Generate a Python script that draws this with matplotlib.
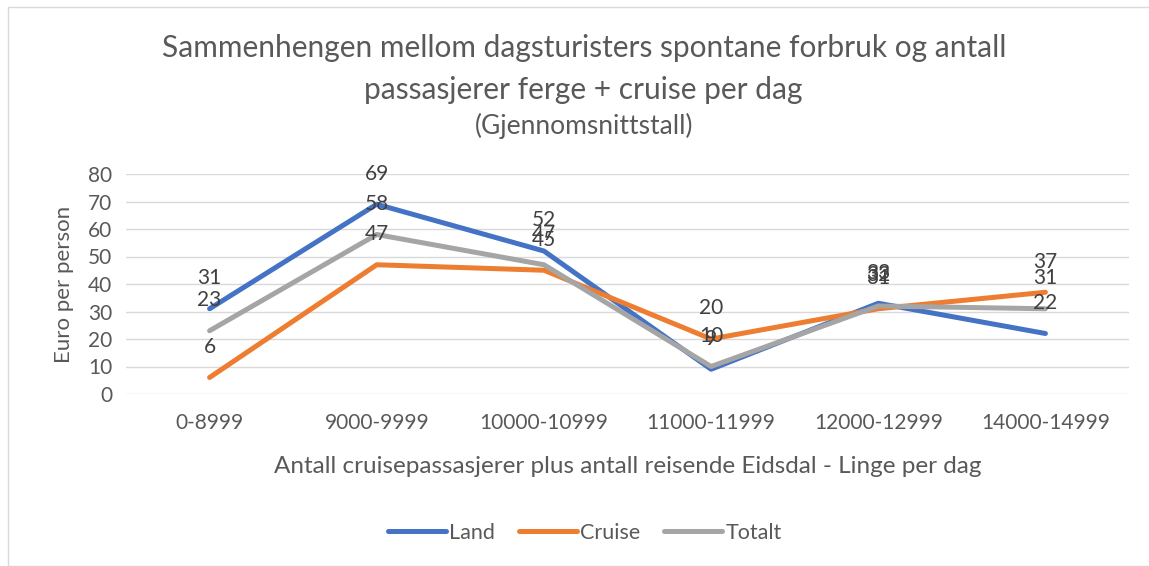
import matplotlib.pyplot as plt
from matplotlib.patches import Rectangle

categories = ['0-8999', '9000-9999', '10000-10999', '11000-11999', '12000-12999', '14000-14999']
land = [31, 69, 52, 9, 33, 22]
cruise = [6, 47, 45, 20, 31, 37]
totalt = [23, 58, 47, 10, 32, 31]

series = [('Land', land, '#4472C4'), ('Cruise', cruise, '#ED7D31'), ('Totalt', totalt, '#A5A5A5')]

plt.rcParams['font.family'] = ['Lato', 'DejaVu Sans']
text_col = '#595959'

fig = plt.figure(figsize=(11.49, 5.66), dpi=100)
fig.patches.append(Rectangle((8 / 1149, 0), 1.0, 1 - 7 / 566, transform=fig.transFigure,
                             fill=False, edgecolor='#D9D9D9', linewidth=1))
ax = fig.add_axes([126 / 1149, 1 - 394 / 566, 1003 / 1149, 220 / 566])

x = list(range(len(categories)))
for name, vals, col in series:
    ax.plot(x, vals, color=col, linewidth=3.6, label=name, solid_joinstyle='round', solid_capstyle='round')
for name, vals, col in series:
    for xi, v in zip(x, vals):
        ax.annotate(str(v), (xi, v), xytext=(0, 22), textcoords='offset points',
                    ha='center', va='center', fontsize=15, color='#404040')

ax.set_xlim(-0.5, 5.5)
ax.set_ylim(0, 80)
ax.set_yticks(range(0, 81, 10))
ax.set_xticks(x)
ax.set_xticklabels(categories)
ax.grid(axis='y', color='#D9D9D9', linewidth=1)
ax.set_axisbelow(True)
for s in ax.spines.values():
    s.set_visible(False)
ax.tick_params(length=0, labelsize=15, colors=text_col, pad=10)
ax.tick_params(axis='x', pad=14)

ax.set_ylabel('Euro per person', fontsize=16, color=text_col, labelpad=10)
ax.set_xlabel('Antall cruisepassasjerer plus antall reisende Eidsdal - Linge per dag',
              fontsize=17.5, color=text_col, labelpad=16)

fig.text(0.508, 1 - 48 / 566, 'Sammenhengen mellom dagsturisters spontane forbruk og antall',
         ha='center', va='center', fontsize=21.5, color=text_col)
fig.text(0.508, 1 - 90 / 566, 'passasjerer ferge + cruise per dag',
         ha='center', va='center', fontsize=21.5, color=text_col)
fig.text(0.508, 1 - 126 / 566, '(Gjennomsnittstall)',
         ha='center', va='center', fontsize=19, color=text_col)

fig.legend(loc='center', bbox_to_anchor=(0.509, 1 - 533 / 566), ncol=3, frameon=False,
           fontsize=15.5, handlelength=2.7, handletextpad=0.15, columnspacing=1.1,
           labelcolor=text_col)

fig.savefig('out.png', dpi=100)
